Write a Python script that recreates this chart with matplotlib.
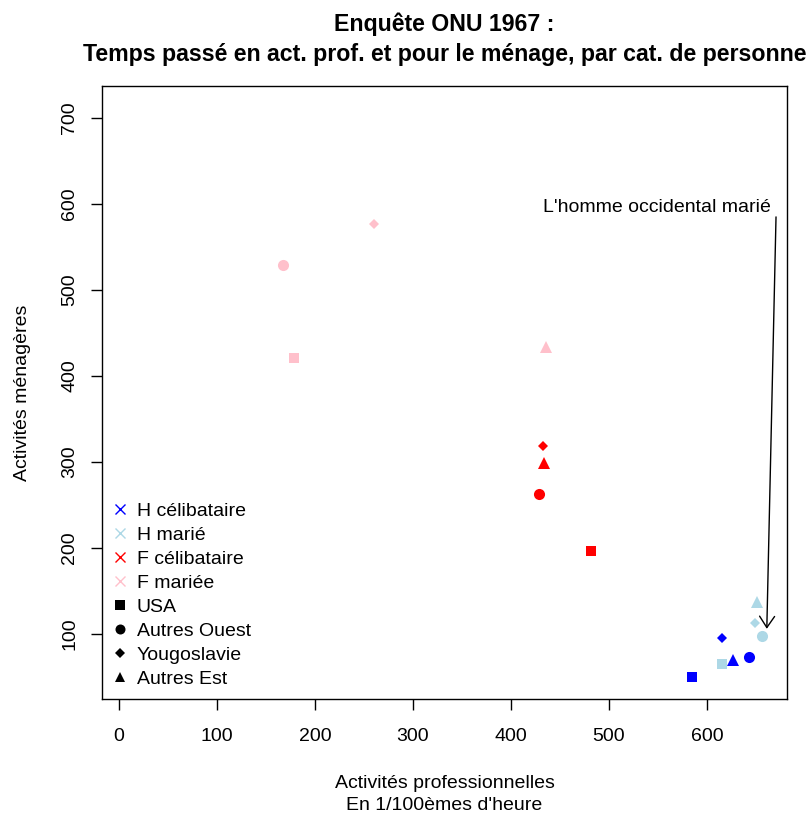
import matplotlib.pyplot as plt
from matplotlib.lines import Line2D

plt.rcParams['font.family'] = ['Liberation Sans', 'DejaVu Sans']

# categories de personnes et pays
categories = ["H célibataire", "H marié", "F célibataire", "F mariée"]
cat_colors = ["blue", "lightblue", "red", "pink"]
pays = ["USA", "Autres Ouest", "Yougoslavie", "Autres Est"]
pays_markers = ["s", "o", "D", "^"]
pays_sizes = [7.5, 8, 5.5, 8.5]

# activites professionnelles (1/100emes d'heure), par categorie, ordre des pays
prof_hc = [585, 643, 615, 627]
prof_hm = [615, 656, 649, 651]
prof_fc = [482, 429, 433, 434]
prof_fm = [179, 167, 260, 436]

# activites menageres
men_hc = [50, 73, 95, 70]
men_hm = [65, 98, 113, 137]
men_fc = [196, 263, 319, 299]
men_fm = [421, 529, 577, 434]

prof = [prof_hc, prof_hm, prof_fc, prof_fm]
men = [men_hc, men_hm, men_fc, men_fm]

fig = plt.figure(figsize=(8.1, 8.14), dpi=100)
ax = fig.add_axes([0.1259, 0.1413, 0.8457, 0.753])

for c, col in enumerate(cat_colors):
    for p, mk in enumerate(pays_markers):
        ax.plot(prof[c][p], men[c][p], linestyle='none', marker=mk,
                markersize=pays_sizes[p], color=col, markeredgewidth=0)

ax.annotate('', xy=(661, 106), xytext=(670.4, 585),
            arrowprops=dict(arrowstyle='->,head_length=0.45,head_width=0.3',
                            lw=1, color='black', mutation_scale=18,
                            shrinkA=0, shrinkB=0))
ax.text(665, 596.5, "L'homme occidental marié", ha='right', va='center', fontsize=14)

ax.set_xlim(-17.3, 681.6)
ax.set_ylim(24.4, 737.2)
ax.set_xticks([0, 100, 200, 300, 400, 500, 600])
ax.set_yticks([100, 200, 300, 400, 500, 600, 700])
ax.tick_params(direction='out', length=8, width=1, labelsize=14)
ax.tick_params(axis='x', pad=13)
ax.tick_params(axis='y', pad=9)
plt.setp(ax.get_yticklabels(), rotation=90, va='center')
for s in ax.spines.values():
    s.set_linewidth(1)

fig.text(0.5488, 1 - 783 / 814, "Activités professionnelles", fontsize=14,
         ha='center', va='center')
fig.text(0.5488, 1 - 805 / 814, "En 1/100èmes d'heure", fontsize=14,
         ha='center', va='center')
ax.set_ylabel("Activités ménagères", fontsize=14, labelpad=22)
fig.text(0.5488, 1 - 24 / 814, "Enquête ONU 1967 :", fontsize=16.7,
         fontweight='bold', ha='center', va='center')
fig.text(0.5488, 1 - 54 / 814,
         "Temps passé en act. prof. et pour le ménage, par cat. de personne",
         fontsize=16.7, fontweight='bold', ha='center', va='center')

handles = []
for lab, col in zip(categories, cat_colors):
    handles.append(Line2D([], [], linestyle='none', marker='x', color=col,
                          markersize=7, markeredgewidth=1, label=lab))
for lab, mk, ms in zip(pays, pays_markers, pays_sizes):
    handles.append(Line2D([], [], linestyle='none', marker=mk, color='black',
                          markersize=ms * 0.9, markeredgewidth=0, label=lab))
ax.legend(handles=handles, loc='lower left', bbox_to_anchor=(0.0, 0.0),
          frameon=False, fontsize=14, handlelength=0.8, handletextpad=0.45,
          labelspacing=0.33, borderpad=0.4, borderaxespad=0.15)

fig.savefig("out.png", dpi=100)
